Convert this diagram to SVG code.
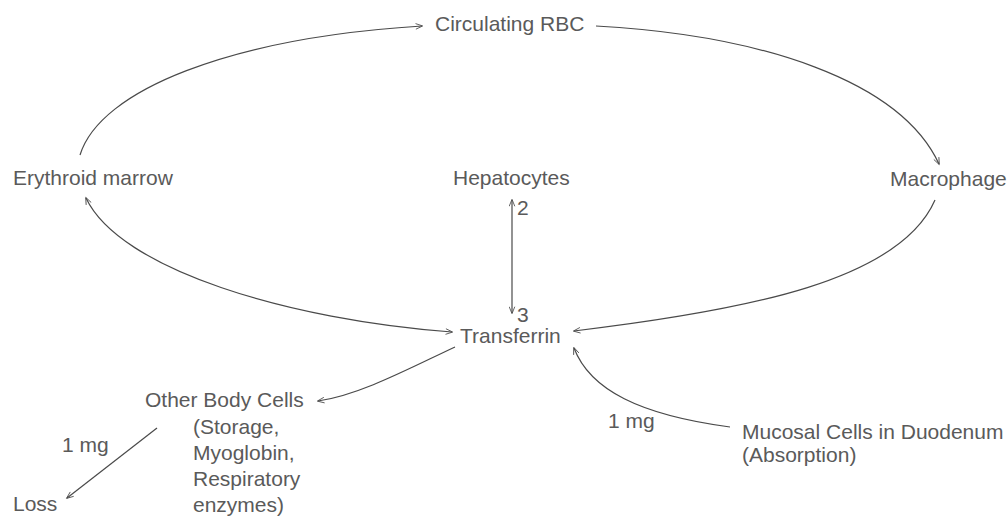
<svg xmlns="http://www.w3.org/2000/svg" width="1008" height="525" viewBox="0 0 1008 525">
<style>
text{font-family:"Liberation Sans",Arial,sans-serif;font-size:21px;fill:#5a5a5a}
.c{fill:none;stroke:#4a4a4a;stroke-width:1.2}
</style>
<defs>
<marker id="ah" viewBox="0 0 10 10" refX="9" refY="5" markerWidth="9" markerHeight="7" orient="auto-start-reverse" markerUnits="userSpaceOnUse">
<path d="M0,1 L10,5 L0,9" fill="none" stroke="#4a4a4a" stroke-width="1.2"/>
</marker>
</defs>
<rect width="1008" height="525" fill="#ffffff"/>
<g id="connectors">
<path class="c" d="M80,155 C100,90 230,38 422,26" marker-end="url(#ah)"/>
<path class="c" d="M596,26 C760,35 900,80 939,164" marker-end="url(#ah)"/>
<path class="c" d="M935,200 C900,280 750,310 574,331" marker-end="url(#ah)"/>
<path class="c" d="M452,332 C290,320 120,270 86,198" marker-start="url(#ah)" marker-end="url(#ah)"/>
<path class="c" d="M512,200 L512,313" marker-start="url(#ah)" marker-end="url(#ah)"/>
<path class="c" d="M455,347 C410,368 360,395 318,401" marker-end="url(#ah)"/>
<path class="c" d="M157,428 L67,498" marker-end="url(#ah)"/>
<path class="c" d="M730,427 C640,415 590,390 574,348" marker-end="url(#ah)"/>
</g>
<g id="rbc"><text x="435" y="31">Circulating RBC</text></g>
<g id="erythroid"><text x="13" y="185">Erythroid marrow</text></g>
<g id="hepatocytes"><text x="453" y="185">Hepatocytes</text></g>
<g id="macrophage"><text x="890" y="186">Macrophage</text></g>
<g id="transferrin"><text x="460" y="343">Transferrin</text></g>
<g id="labels">
<text x="517" y="215">2</text>
<text x="517" y="322">3</text>
<text x="62" y="452">1 mg</text>
<text x="608" y="428">1 mg</text>
</g>
<g id="other">
<text x="145" y="407">Other Body Cells</text>
<text x="193" y="434">(Storage,</text>
<text x="193" y="460">Myoglobin,</text>
<text x="193" y="486">Respiratory</text>
<text x="193" y="512">enzymes)</text>
</g>
<g id="loss"><text x="13" y="511">Loss</text></g>
<g id="mucosal">
<text x="742" y="439">Mucosal Cells in Duodenum</text>
<text x="742" y="462">(Absorption)</text>
</g>
</svg>
